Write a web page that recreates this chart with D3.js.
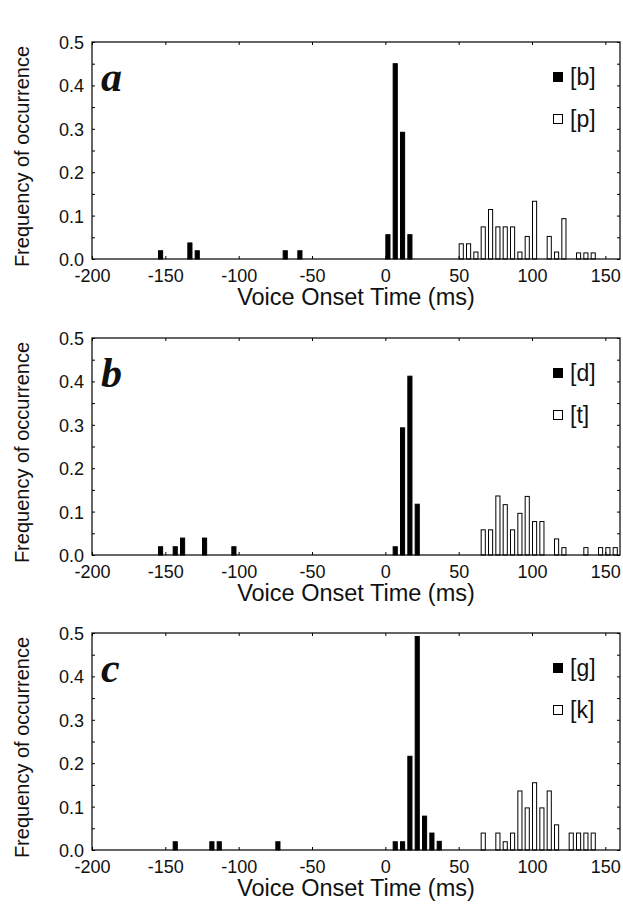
<!DOCTYPE html>
<html>
<head>
<meta charset="utf-8">
<script src="https://cdn.jsdelivr.net/npm/d3@7"></script>
<style>
  body { margin: 0; background: #fff; }
  text { font-family: "Liberation Sans", Arial, sans-serif; fill: #111; }
</style>
</head>
<body>
<div id="chart"></div>
<script>
// VOT histograms for voiced / voiceless stop pairs, three panels
const panelLetters = ["a", "b", "c"];
const voicedLabels = ["[b]", "[d]", "[g]"];
const voicelessLabels = ["[p]", "[t]", "[k]"];

// bin start (ms) and frequency of occurrence
const bVot = [-155, -135, -130, -70, -60, 0, 5, 10, 15];
const bFreq = [0.019, 0.037, 0.019, 0.019, 0.019, 0.056, 0.45, 0.292, 0.056];
const pVot = [50, 55, 60, 65, 70, 75, 80, 85, 90, 95, 100, 110, 115, 120, 130, 135, 140];
const pFreq = [0.035, 0.035, 0.016, 0.074, 0.114, 0.074, 0.074, 0.074, 0.016, 0.052, 0.133, 0.052, 0.016, 0.093, 0.014, 0.014, 0.014];

const dVot = [-155, -145, -140, -125, -105, 5, 10, 15, 20];
const dFreq = [0.019, 0.019, 0.039, 0.039, 0.019, 0.019, 0.293, 0.412, 0.117];
const tVot = [65, 70, 75, 80, 85, 90, 95, 100, 105, 115, 120, 135, 145, 150, 155];
const tFreq = [0.058, 0.058, 0.136, 0.116, 0.058, 0.096, 0.135, 0.077, 0.077, 0.037, 0.017, 0.017, 0.017, 0.017, 0.017];

const gVot = [-145, -120, -115, -75, 5, 10, 15, 20, 25, 30, 35];
const gFreq = [0.019, 0.019, 0.019, 0.019, 0.019, 0.019, 0.216, 0.492, 0.078, 0.039, 0.02];
const kVot = [65, 75, 80, 85, 90, 95, 100, 105, 110, 115, 125, 130, 135, 140];
const kFreq = [0.039, 0.039, 0.019, 0.039, 0.136, 0.097, 0.155, 0.097, 0.136, 0.058, 0.039, 0.039, 0.039, 0.039];

const xTicks = [-200, -150, -100, -50, 0, 50, 100, 150];
const yTicks = [0.0, 0.1, 0.2, 0.3, 0.4, 0.5];

const voicedSeries = [[bVot, bFreq], [dVot, dFreq], [gVot, gFreq]];
const voicelessSeries = [[pVot, pFreq], [tVot, tFreq], [kVot, kFreq]];

const width = 623, height = 908;
const panelTops = [42, 338, 633];
const ph = 217;
const left = 92, right = 620;
const binW = 3.5; // bar drawn width in ms

const svg = d3.select("#chart").append("svg")
    .attr("width", width)
    .attr("height", height);

const x = d3.scaleLinear().domain([-200, 160]).range([left, right]);

panelLetters.forEach((letter, i) => {
    const top = panelTops[i];
    const y = d3.scaleLinear().domain([0, 0.5]).range([top + ph, top]);
    const g = svg.append("g").attr("class", "panel-" + letter);

    // bars
    function drawBars(series, fill) {
        const data = d3.zip(series[0], series[1]);
        g.append("g").selectAll("rect")
            .data(data)
            .join("rect")
            .attr("x", d => x(d[0]) + 0.5)
            .attr("width", d => x(d[0] + binW) - x(d[0]) - 1)
            .attr("y", d => y(d[1]))
            .attr("height", d => y(0) - y(d[1]))
            .attr("fill", fill)
            .attr("stroke", "#000")
            .attr("stroke-width", 1);
    }
    drawBars(voicedSeries[i], "#000");
    drawBars(voicelessSeries[i], "#fff");

    // y ticks (labelled every 0.1, minor every 0.05)
    const minor = yTicks.slice(1).map(t => t - 0.05);
    const yAxis = d3.axisLeft(y)
        .tickValues(yTicks.concat(minor))
        .tickFormat(d => yTicks.includes(d) ? d.toFixed(1) : "")
        .tickSizeInner(-3)
        .tickSizeOuter(0)
        .tickPadding(8);
    g.append("g")
        .attr("transform", `translate(${left},0)`)
        .call(yAxis)
        .call(a => a.select(".domain").remove())
        .selectAll("text")
        .style("font-size", "18px")
        .attr("dy", "0.36em");

    g.append("g")
        .attr("transform", `translate(${right},0)`)
        .call(d3.axisRight(y).tickValues(yTicks.concat(minor)).tickFormat("").tickSizeInner(-3).tickSizeOuter(0))
        .call(a => a.select(".domain").remove());

    // x ticks, plain hyphen for negatives as in the figure
    g.append("g")
        .attr("transform", `translate(0,${top + ph})`)
        .call(d3.axisBottom(x).tickValues(xTicks).tickFormat(d => String(d)).tickSizeInner(-3).tickSizeOuter(0).tickPadding(10))
        .call(a => a.select(".domain").remove())
        .selectAll("text")
        .style("font-size", "18px");

    g.append("g")
        .attr("transform", `translate(0,${top})`)
        .call(d3.axisTop(x).tickValues(xTicks).tickFormat("").tickSizeInner(-3).tickSizeOuter(0))
        .call(a => a.select(".domain").remove());

    g.selectAll(".tick line").attr("stroke", "#000");

    // frame
    g.append("rect")
        .attr("x", left)
        .attr("y", top)
        .attr("width", right - left)
        .attr("height", ph)
        .attr("fill", "none")
        .attr("stroke", "#000")
        .attr("stroke-width", 1.2);

    // axis titles
    g.append("text")
        .attr("x", (left + right) / 2)
        .attr("y", top + ph + 46)
        .attr("text-anchor", "middle")
        .style("font-size", "23.5px")
        .text("Voice Onset Time (ms)");

    g.append("text")
        .attr("transform", `translate(29,${top + ph / 2 + 6}) rotate(-90)`)
        .attr("text-anchor", "middle")
        .style("font-size", "20px")
        .text("Frequency of occurrence");

    // panel letter
    g.append("text")
        .attr("x", 101)
        .attr("y", top + 49)
        .style("font-family", "'Liberation Serif', 'DejaVu Serif', serif")
        .style("font-weight", "bold")
        .style("font-style", "italic")
        .style("font-size", "42px")
        .text(letter);

    // legend
    const legend = g.append("g").attr("transform", `translate(553,${top})`);
    [[voicedLabels[i], "#000", 35], [voicelessLabels[i], "#fff", 77]].forEach(([lab, fill, cy]) => {
        legend.append("rect")
            .attr("x", 0.5)
            .attr("y", cy - 4.5)
            .attr("width", 9)
            .attr("height", 9)
            .attr("fill", fill)
            .attr("stroke", "#000")
            .attr("stroke-width", 1);
        legend.append("text")
            .attr("x", 17)
            .attr("y", cy + 8)
            .style("font-size", "23px")
            .text(lab);
    });
});
</script>
</body>
</html>
